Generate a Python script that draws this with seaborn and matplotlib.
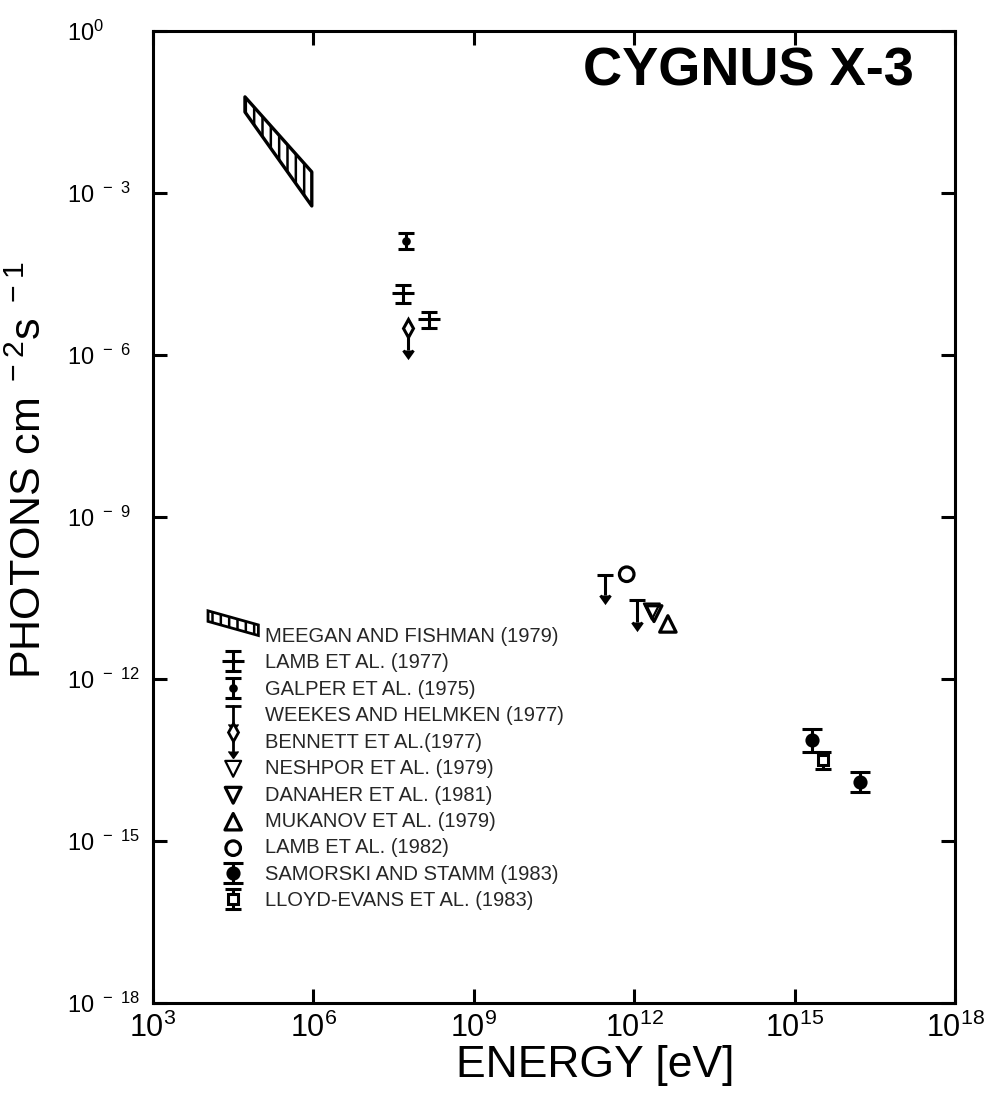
"""
Cygnus X-3 photon spectrum, radio-quiet high energy compilation
"""

import numpy as np
import matplotlib
matplotlib.use('Agg')
import matplotlib.pyplot as plt
import matplotlib.patches as mpatches
import matplotlib.lines as mlines
from matplotlib.ticker import NullLocator
from matplotlib.legend_handler import HandlerBase, HandlerPatch
import seaborn as sns

# All values are log10 (energy in eV, flux in photons cm^-2 s^-1)

# Meegan and Fishman (1979): band, upper and lower edge
meegan_log_e = [4.72, 5.97]
meegan_log_hi = [-1.22, -2.61]
meegan_log_lo = [-1.50, -3.24]

# Lamb et al. (1977)
lamb77_log_e = [7.68, 8.16]
lamb77_log_f = [-4.85, -5.33]
lamb77_log_hi = [-4.70, -5.20]
lamb77_log_lo = [-5.04, -5.50]

# Galper et al. (1975)
galper_log_e = [7.73]
galper_log_f = [-3.89]
galper_log_hi = [-3.74]
galper_log_lo = [-4.04]

# Weekes and Helmken (1977), upper limits (arrow tip)
weekes_log_e = [11.45, 12.05]
weekes_log_f = [-10.07, -10.54]
weekes_log_tip = [-10.44, -10.94]

# Bennett et al. (1977), upper limit
bennett_log_e = [7.77]
bennett_log_f = [-5.50]
bennett_log_tip = [-5.91]

# Single points
neshpor_log_e = [12.33]
neshpor_log_f = [-10.75]
danaher_log_e = [12.37]
danaher_log_f = [-10.79]
mukanov_log_e = [12.63]
mukanov_log_f = [-10.98]
lamb82_log_e = [11.86]
lamb82_log_f = [-10.06]

# Samorski and Stamm (1983)
samorski_log_e = [15.32, 16.22]
samorski_log_f = [-13.13, -13.91]
samorski_log_hi = [-12.93, -13.72]
samorski_log_lo = [-13.35, -14.09]

# Lloyd-Evans et al. (1983)
lloyd_log_e = [15.53]
lloyd_log_f = [-13.50]
lloyd_log_hi = [-13.35]
lloyd_log_lo = [-13.67]

legend_labels = [
    'MEEGAN AND FISHMAN (1979)',
    'LAMB ET AL. (1977)',
    'GALPER ET AL. (1975)',
    'WEEKES AND HELMKEN (1977)',
    'BENNETT ET AL.(1977)',
    'NESHPOR ET AL. (1979)',
    'DANAHER ET AL. (1981)',
    'MUKANOV ET AL. (1979)',
    'LAMB ET AL. (1982)',
    'SAMORSKI AND STAMM (1983)',
    'LLOYD-EVANS ET AL. (1983)',
]

x_tick_exp = [3, 6, 9, 12, 15, 18]
y_tick_exp = [0, -3, -6, -9, -12, -15, -18]


def lin(a):
    return 10.0 ** np.asarray(a, dtype=float)


def asym_err(log_f, log_lo, log_hi):
    f = lin(log_f)
    return [f - lin(log_lo), lin(log_hi) - f]


class HandlerUpperLimit(HandlerBase):
    """Legend glyph for an upper limit: symbol on top, stem, arrow head."""

    def __init__(self, top_marker, top_size, **kw):
        super().__init__(**kw)
        self.top_marker = top_marker
        self.top_size = top_size

    def create_artists(self, legend, orig_handle, xdescent, ydescent,
                       width, height, fontsize, trans):
        x = 0.5 * width - xdescent
        yc = 0.5 * height - ydescent
        top = yc + 0.42 * fontsize
        bottom = yc - 0.5 * fontsize
        stem = mlines.Line2D([x, x], [top, bottom], color='black', lw=2.0)
        head = mlines.Line2D([x], [bottom], marker=mlines.CARETDOWNBASE,
                             ms=7, color='black', ls='none')
        cap = mlines.Line2D([x], [top], marker=self.top_marker,
                            ms=self.top_size, mfc='white', mec='black',
                            mew=2.0, ls='none')
        artists = [stem, head, cap]
        for a in artists:
            a.set_transform(trans)
        return artists


def slanted_band(legend, orig_handle, xdescent, ydescent, width, height, fontsize):
    x0, x1 = -xdescent, width - xdescent
    y0 = -ydescent
    return mpatches.Polygon([[x0, y0 + 2.2 * height], [x0, y0 + 1.45 * height],
                             [x1, y0 + 0.45 * height], [x1, y0 + 1.2 * height]],
                            closed=True)


sns.set_theme(style='ticks')
plt.rcParams['font.family'] = ['Liberation Sans', 'DejaVu Sans']
plt.rcParams['mathtext.fontset'] = 'custom'
plt.rcParams['mathtext.rm'] = 'Liberation Sans'
plt.rcParams['hatch.linewidth'] = 1.8
plt.rcParams['axes.linewidth'] = 2.2

fig = plt.figure(figsize=(9.91, 10.99), dpi=100)
ax = fig.add_axes([153 / 991, 1 - 1003 / 1099, 802 / 991, 972 / 1099])
ax.set_xscale('log')
ax.set_yscale('log')
ax.set_xlim(1e3, 1e18)
ax.set_ylim(1e-18, 1)

lw = 2.2
eb_kw = dict(color='black', elinewidth=lw, capthick=lw, mew=lw)

# Meegan and Fishman band
ax.fill_between(lin(meegan_log_e), lin(meegan_log_lo), lin(meegan_log_hi),
                facecolor='white', edgecolor='black', hatch='||', linewidth=2.4)
meegan_proxy = mpatches.Patch(facecolor='white', edgecolor='black',
                              hatch='||', linewidth=2.0)

lamb77 = ax.errorbar(lin(lamb77_log_e), lin(lamb77_log_f),
                     yerr=asym_err(lamb77_log_f, lamb77_log_lo, lamb77_log_hi),
                     fmt='_', ms=16, capsize=6, **eb_kw)
galper = ax.errorbar(lin(galper_log_e), lin(galper_log_f),
                     yerr=asym_err(galper_log_f, galper_log_lo, galper_log_hi),
                     fmt='o', ms=4, capsize=6, **eb_kw)

weekes = ax.errorbar(lin(weekes_log_e), lin(weekes_log_f),
                     yerr=[lin(weekes_log_f) - lin(weekes_log_tip), np.zeros(2)],
                     uplims=True, fmt='none', capsize=6, **eb_kw)
weekes.lines[1][0].set_markersize(7)

bennett = ax.errorbar(lin(bennett_log_e), lin(bennett_log_f),
                      yerr=[lin(bennett_log_f) - lin(bennett_log_tip), [0.0]],
                      uplims=True, fmt='d', ms=9, mfc='white', capsize=4, **eb_kw)
bennett.lines[1][0].set_markersize(7)
bennett.lines[1][1].set_visible(False)

open_kw = dict(facecolors='none', edgecolor='black', ax=ax, legend=False)
sns.scatterplot(x=lin(neshpor_log_e), y=lin(neshpor_log_f), marker='v', s=130,
                linewidth=1.6, **open_kw)
neshpor = ax.collections[-1]
sns.scatterplot(x=lin(danaher_log_e), y=lin(danaher_log_f), marker='v', s=130,
                linewidth=2.3, **open_kw)
danaher = ax.collections[-1]
sns.scatterplot(x=lin(mukanov_log_e), y=lin(mukanov_log_f), marker='^', s=140,
                linewidth=2.3, **open_kw)
mukanov = ax.collections[-1]
sns.scatterplot(x=lin(lamb82_log_e), y=lin(lamb82_log_f), marker='o', s=110,
                linewidth=2.3, **open_kw)
lamb82 = ax.collections[-1]

samorski = ax.errorbar(lin(samorski_log_e), lin(samorski_log_f),
                       yerr=asym_err(samorski_log_f, samorski_log_lo, samorski_log_hi),
                       fmt='o', ms=8, capsize=7, **eb_kw)
lloyd = ax.errorbar(lin(lloyd_log_e), lin(lloyd_log_f),
                    yerr=asym_err(lloyd_log_f, lloyd_log_lo, lloyd_log_hi),
                    fmt='s', ms=7, mfc='white', capsize=6, **eb_kw)

handles = [meegan_proxy, lamb77, galper, weekes, bennett, neshpor, danaher,
           mukanov, lamb82, samorski, lloyd]
ax.legend(handles, legend_labels, loc='upper left', bbox_to_anchor=(0.0686, 0.387),
          frameon=False, fontsize=14.5, handlelength=2.5, handletextpad=0.35,
          labelspacing=0.37, borderpad=0, borderaxespad=0,
          handler_map={meegan_proxy: HandlerPatch(patch_func=slanted_band),
                       weekes: HandlerUpperLimit('_', 12),
                       bennett: HandlerUpperLimit('d', 9)})

# axes, ticks, labels
ax.xaxis.set_minor_locator(NullLocator())
ax.yaxis.set_minor_locator(NullLocator())
ax.set_xticks([10.0 ** k for k in x_tick_exp],
              [r'$\mathregular{10^{%d}}$' % k for k in x_tick_exp])
ax.set_yticks([10.0 ** k for k in y_tick_exp],
              [r'$\mathregular{10^{0}}$' if k == 0 else
               r'$\mathregular{10^{\ -\ %d}}$' % -k for k in y_tick_exp])
ax.tick_params(which='major', direction='in', length=10, width=2.2,
               top=True, right=True, colors='black')
ax.tick_params(axis='x', labelsize=22, pad=7)
ax.tick_params(axis='y', labelsize=17, pad=62)
for lab in ax.get_yticklabels():
    lab.set_horizontalalignment('left')
for side in ax.spines.values():
    side.set_color('black')

ax.set_xlabel('ENERGY [eV]', fontsize=32, color='black')
ax.xaxis.set_label_coords(0.551, -0.043)
ax.set_ylabel(r'PHOTONS cm$^{\mathregular{\ -2}}$s$^{\mathregular{\ -1}}$',
              fontsize=31, color='black')
ax.yaxis.set_label_coords(-0.128, 0.548)

ax.text(0.742, 0.958, 'CYGNUS X-3', transform=ax.transAxes, ha='center',
        va='center', fontsize=39, fontweight='bold', color='black')

fig.savefig('out.png', dpi=100)
